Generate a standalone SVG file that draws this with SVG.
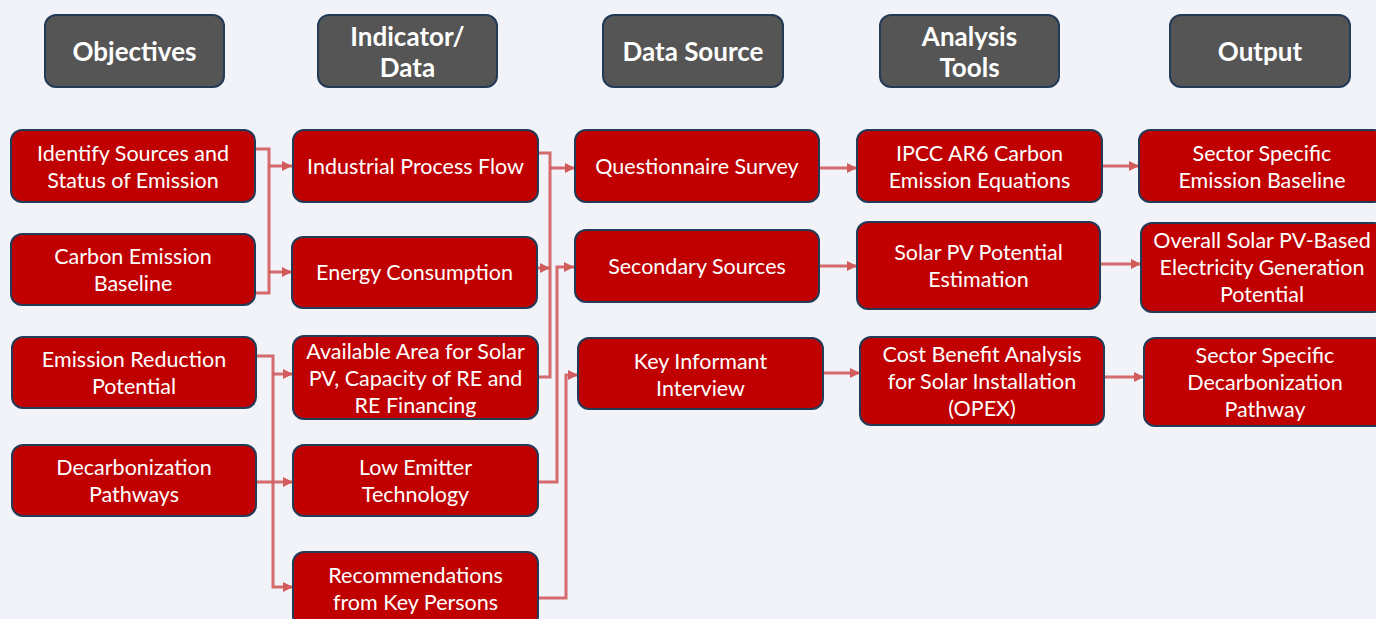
<svg xmlns="http://www.w3.org/2000/svg" width="1376" height="619" viewBox="0 0 1376 619">
<defs>
<style>
.bg{fill:#F1F3F8}
.hdr rect{fill:#555555;stroke:#243B58;stroke-width:2}
.hdr text{font-family:Lato,"Liberation Sans",sans-serif;font-weight:bold;font-size:26px;fill:#FFFFFF;text-anchor:middle;dominant-baseline:central}
.node rect{fill:#C00000;stroke:#243B58;stroke-width:2}
.node text{font-family:Lato,"Liberation Sans",sans-serif;font-size:21.5px;fill:#FFFFFF;text-anchor:middle;dominant-baseline:central}
.conn path{fill:none;stroke:#D25C5C;stroke-width:3;stroke-opacity:0.9}
</style>
<marker id="ah" markerUnits="userSpaceOnUse" markerWidth="12" markerHeight="12" viewBox="0 0 12 12" refX="11" refY="6" orient="auto">
<path d="M1,1 L11,6 L1,11 Z" fill="#D25C5C"/>
</marker>
</defs>
<rect class="bg" x="0" y="0" width="1376" height="619"/>

<g id="connectors" class="conn">
<path d="M255,149 H269 V293 H255"/>
<path d="M269,166 H292" marker-end="url(#ah)"/>
<path d="M269,272 H292" marker-end="url(#ah)"/>
<path d="M256,356 H273 V587 H293" marker-end="url(#ah)"/>
<path d="M273,374 H293" marker-end="url(#ah)"/>
<path d="M256,482 H293" marker-end="url(#ah)"/>
<path d="M538,153 H550 V377 H538"/>
<path d="M550,168 H575" marker-end="url(#ah)"/>
<path d="M537,268 H550" marker-end="url(#ah)"/>
<path d="M538,482 H557 V267 H574" marker-end="url(#ah)"/>
<path d="M538,598 H566 V375 H578" marker-end="url(#ah)"/>
<path d="M819,168 H857" marker-end="url(#ah)"/>
<path d="M819,266 H857" marker-end="url(#ah)"/>
<path d="M823,373 H860" marker-end="url(#ah)"/>
<path d="M1102,166 H1139" marker-end="url(#ah)"/>
<path d="M1100,264 H1141" marker-end="url(#ah)"/>
<path d="M1104,377 H1144" marker-end="url(#ah)"/>
</g>

<g id="h-objectives" class="hdr"><rect x="45" y="15" width="179" height="72" rx="11"/><text x="134.5" y="51">Objectives</text></g>
<g id="h-indicator" class="hdr"><rect x="318" y="15" width="179" height="72" rx="11"/><text x="407.5" y="36">Indicator/</text><text x="407.5" y="67">Data</text></g>
<g id="h-datasource" class="hdr"><rect x="603" y="15" width="180" height="72" rx="11"/><text x="693" y="51">Data Source</text></g>
<g id="h-analysis" class="hdr"><rect x="880" y="15" width="179" height="72" rx="11"/><text x="969.5" y="36">Analysis</text><text x="969.5" y="67">Tools</text></g>
<g id="h-output" class="hdr"><rect x="1170" y="15" width="180" height="72" rx="11"/><text x="1260" y="51">Output</text></g>

<g id="n-identify" class="node"><rect x="11" y="130" width="244" height="72" rx="11"/><text x="133" y="153">Identify Sources and</text><text x="133" y="180">Status of Emission</text></g>
<g id="n-carbon" class="node"><rect x="11" y="234" width="244" height="71" rx="11"/><text x="133" y="256">Carbon Emission</text><text x="133" y="283">Baseline</text></g>
<g id="n-reduction" class="node"><rect x="12" y="337" width="244" height="71" rx="11"/><text x="134" y="359">Emission Reduction</text><text x="134" y="386">Potential</text></g>
<g id="n-decarb" class="node"><rect x="12" y="445" width="244" height="71" rx="11"/><text x="134" y="467">Decarbonization</text><text x="134" y="494">Pathways</text></g>

<g id="n-process" class="node"><rect x="293" y="130" width="245" height="72" rx="11"/><text x="415.5" y="166">Industrial Process Flow</text></g>
<g id="n-energy" class="node"><rect x="292" y="237" width="245" height="71" rx="11"/><text x="414.5" y="272">Energy Consumption</text></g>
<g id="n-area" class="node"><rect x="293" y="336" width="245" height="83" rx="11"/><text x="415.5" y="351">Available Area for Solar</text><text x="415.5" y="378">PV, Capacity of RE and</text><text x="415.5" y="405">RE Financing</text></g>
<g id="n-lowemitter" class="node"><rect x="293" y="445" width="245" height="71" rx="11"/><text x="415.5" y="467">Low Emitter</text><text x="415.5" y="494">Technology</text></g>
<g id="n-recommend" class="node"><rect x="293" y="552" width="245" height="75" rx="11"/><text x="415.5" y="575">Recommendations</text><text x="415.5" y="602">from Key Persons</text></g>

<g id="n-questionnaire" class="node"><rect x="575" y="130" width="244" height="72" rx="11"/><text x="697" y="166">Questionnaire Survey</text></g>
<g id="n-secondary" class="node"><rect x="575" y="230" width="244" height="72" rx="11"/><text x="697" y="266">Secondary Sources</text></g>
<g id="n-keyinformant" class="node"><rect x="578" y="338" width="245" height="71" rx="11"/><text x="700.5" y="361">Key Informant</text><text x="700.5" y="388">Interview</text></g>

<g id="n-ipcc" class="node"><rect x="857" y="130" width="245" height="72" rx="11"/><text x="979.5" y="153">IPCC AR6 Carbon</text><text x="979.5" y="180">Emission Equations</text></g>
<g id="n-solarpv" class="node"><rect x="857" y="222" width="243" height="87" rx="11"/><text x="978.5" y="252">Solar PV Potential</text><text x="978.5" y="279">Estimation</text></g>
<g id="n-costbenefit" class="node"><rect x="860" y="337" width="244" height="88" rx="11"/><text x="982" y="354">Cost Benefit Analysis</text><text x="982" y="381">for Solar Installation</text><text x="982" y="408">(OPEX)</text></g>

<g id="n-sectoremission" class="node"><rect x="1139" y="130" width="246" height="72" rx="11"/><text x="1262" y="153">Sector Specific</text><text x="1262" y="180">Emission Baseline</text></g>
<g id="n-overall" class="node"><rect x="1141" y="223" width="244" height="89" rx="11"/><text x="1262" y="240">Overall Solar PV-Based</text><text x="1262" y="267">Electricity Generation</text><text x="1262" y="294">Potential</text></g>
<g id="n-sectordecarb" class="node"><rect x="1144" y="338" width="244" height="88" rx="11"/><text x="1265" y="355">Sector Specific</text><text x="1265" y="382">Decarbonization</text><text x="1265" y="409">Pathway</text></g>
</svg>
